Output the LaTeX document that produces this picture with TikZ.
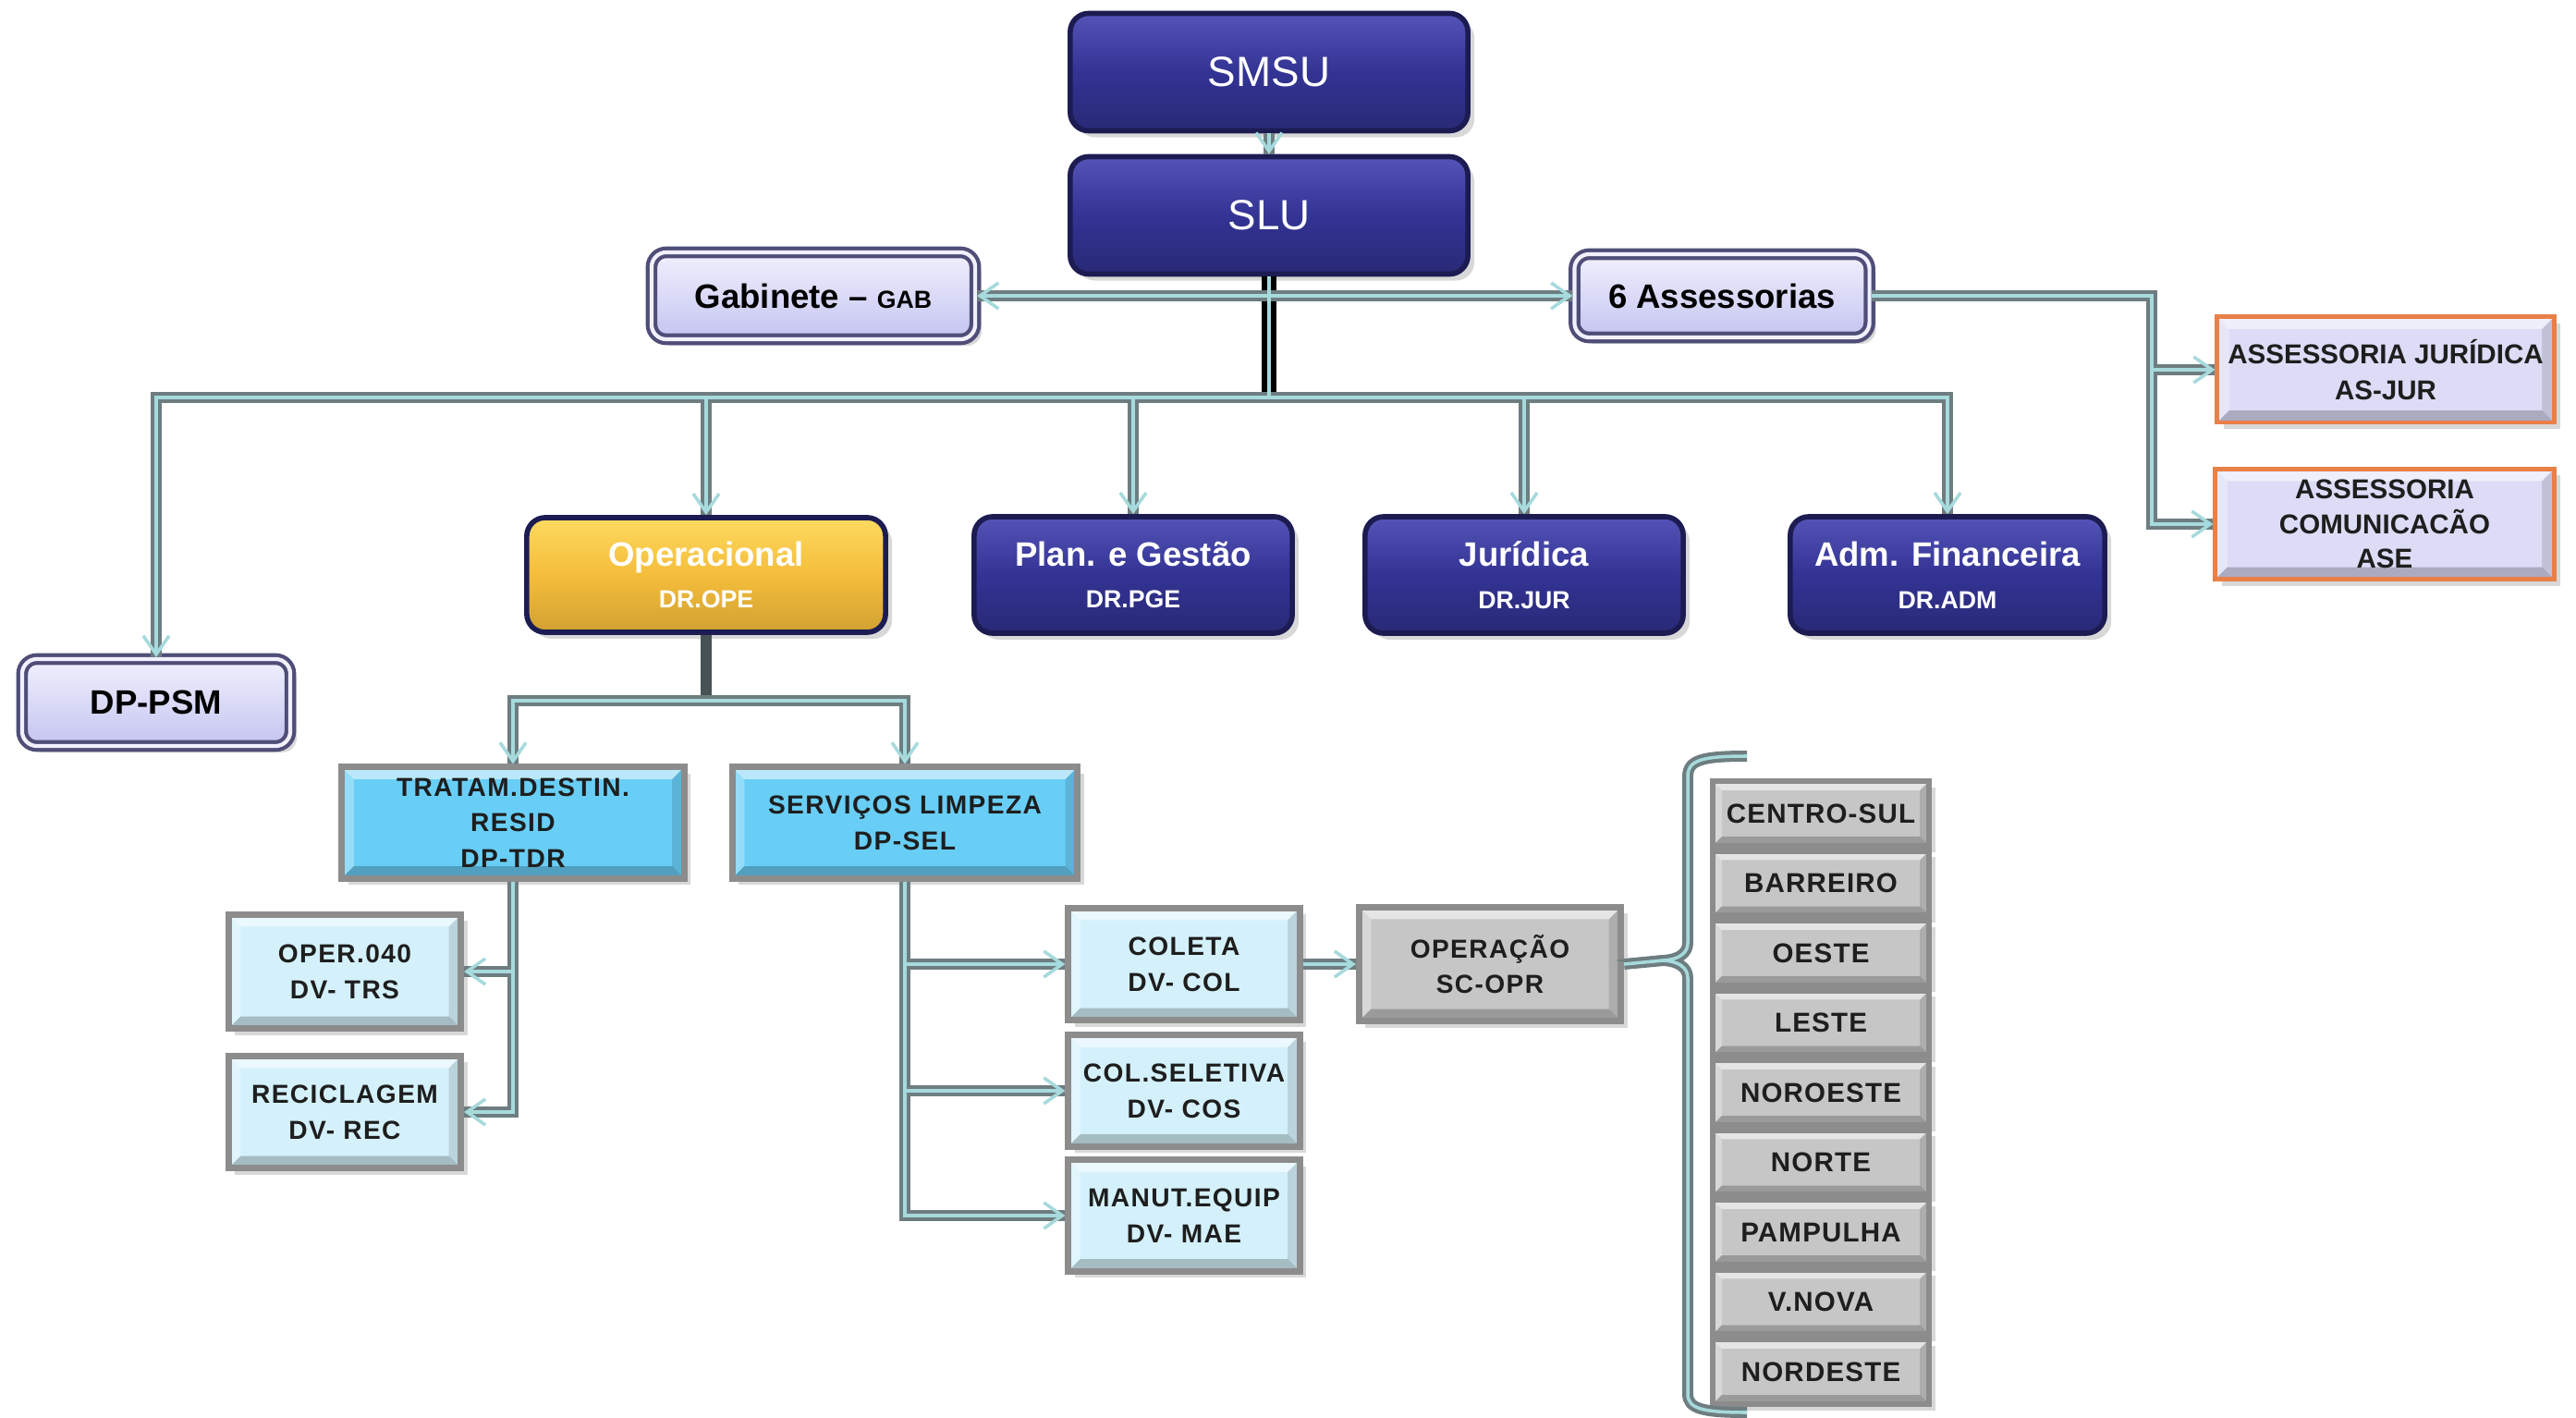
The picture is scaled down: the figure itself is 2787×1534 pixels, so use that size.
\documentclass[tikz,border=0pt]{standalone}
\usepackage{fontspec}
\setmainfont{Liberation Sans}
\newfontfamily\lsfont[LetterSpace=5]{Liberation Sans}
\newfontfamily\rgfont[LetterSpace=4]{Liberation Sans}
\usetikzlibrary{arrows.meta,shadows}
\definecolor{navyfill}{RGB}{51,51,148}
\definecolor{navyedge}{RGB}{28,28,82}
\definecolor{navytop}{RGB}{84,84,184}
\definecolor{orfill}{RGB}{245,189,59}
\definecolor{ortop}{RGB}{252,218,96}
\definecolor{lavtop}{RGB}{240,240,254}
\definecolor{lavbot}{RGB}{196,196,240}
\definecolor{lavedge}{RGB}{78,78,120}
\definecolor{asfill}{RGB}{220,220,247}
\definecolor{asedge}{RGB}{232,128,72}
\definecolor{cyanfill}{RGB}{104,206,246}
\definecolor{palefill}{RGB}{212,241,251}
\definecolor{grayfill}{RGB}{198,198,198}
\definecolor{boxedge}{RGB}{140,140,140}
\definecolor{lineblue}{RGB}{166,218,220}
\definecolor{lineshadow}{RGB}{110,125,128}
\definecolor{darkline}{RGB}{70,82,84}
\definecolor{txt}{RGB}{30,30,30}
\tikzset{
  sz/.style 2 args={minimum width=#1, minimum height=#2, inner sep=0pt, align=center},
  shd/.style={drop shadow={opacity=0.3, shadow xshift=0.07cm, shadow yshift=-0.07cm}},
  bevel/.style={path picture={
    \fill[white,opacity=0.55] (path picture bounding box.north west) -- (path picture bounding box.north east) -- ([shift={(-#1,-#1)}]path picture bounding box.north east) -- ([shift={(#1,-#1)}]path picture bounding box.north west) -- cycle;
    \fill[white,opacity=0.3] (path picture bounding box.north west) -- ([shift={(#1,-#1)}]path picture bounding box.north west) -- ([shift={(#1,#1)}]path picture bounding box.south west) -- (path picture bounding box.south west) -- cycle;
    \fill[black,opacity=0.22] (path picture bounding box.south west) -- ([shift={(#1,#1)}]path picture bounding box.south west) -- ([shift={(-#1,#1)}]path picture bounding box.south east) -- (path picture bounding box.south east) -- cycle;
    \fill[black,opacity=0.12] (path picture bounding box.south east) -- ([shift={(-#1,#1)}]path picture bounding box.south east) -- ([shift={(-#1,-#1)}]path picture bounding box.north east) -- (path picture bounding box.north east) -- cycle;
  }},
  bevel/.default=0.13cm,
  navybox/.style={shd, rounded corners=0.2cm, draw=navyedge, line width=1.6pt,
    top color=navytop, bottom color=navyfill!80!black, middle color=navyfill, text=white},
  orbox/.style={shd, rounded corners=0.2cm, draw=navyedge, line width=1.6pt,
    top color=ortop, bottom color=orfill!85!black, middle color=orfill, text=white},
  lavbox/.style={shd, rounded corners=0.16cm, draw=lavedge, line width=1.2pt,
    double=lavtop, double distance=1.2pt, top color=lavtop, bottom color=lavbot, text=black},
  asbox/.style={shd, fill=asfill, bevel, draw=asedge, line width=1.4pt, text=txt,
    font=\bfseries\fontsize{8.4}{11}\selectfont},
  cyanbox/.style={shd, fill=cyanfill, bevel, draw=boxedge, line width=2pt, text=txt,
    font=\lsfont\bfseries\fontsize{8}{11}\selectfont},
  palebox/.style={shd, fill=palefill, bevel, draw=boxedge, line width=2pt, text=txt,
    font=\lsfont\bfseries\fontsize{8}{11}\selectfont},
  graybox/.style={shd, fill=grayfill, bevel, draw=boxedge, line width=2pt, text=txt,
    font=\lsfont\bfseries\fontsize{8}{11}\selectfont},
  regbox/.style={shd, fill=grayfill, bevel=0.1cm, draw=boxedge, line width=1.8pt, text=txt,
    font=\rgfont\bfseries\fontsize{8.4}{10}\selectfont, sz={2.34cm}{0.7cm}},
  big/.style={font=\bfseries\fontsize{10.4}{13}\selectfont},
}
\newcommand{\sub}[1]{\\[0pt]{\fontsize{7.6}{9}\selectfont #1}}
\begin{document}
\begin{tikzpicture}[x=0.01cm, y=-0.01cm]
\useasboundingbox (0,0) rectangle (2787,1534);
\fill[white] (0,0) rectangle (2787,1534);

% top level
\node[navybox, sz={4.3cm}{1.27cm}, font=\fontsize{13}{15}\selectfont] (smsu) at (1373,78) {SMSU};
\node[navybox, sz={4.3cm}{1.27cm}, font=\fontsize{13}{15}\selectfont] (slu) at (1373,233) {SLU};
\node[lavbox, sz={3.5cm}{0.94cm}, big] (gab) at (880,320) {Gabinete – {\fontsize{7.6}{9}\selectfont GAB}};
\node[lavbox, sz={3.19cm}{0.9cm}, big] (ass6) at (1863,320) {6 Assessorias};
\node[asbox, sz={3.64cm}{1.14cm}] (asjur) at (2581,400) {ASSESSORIA JURÍDICA\\AS-JUR};
\node[asbox, sz={3.66cm}{1.19cm}, font=\bfseries\fontsize{8.4}{10.6}\selectfont] (ase) at (2580,567) {ASSESSORIA\\COMUNICACÃO\\ASE};

% directorates
\node[lavbox, sz={2.9cm}{0.94cm}, big] (psm) at (169,760) {DP-PSM};
\node[orbox, sz={3.88cm}{1.24cm}, big] (ope) at (764,622) {Operacional\sub{DR.OPE}};
\node[navybox, sz={3.44cm}{1.26cm}, big] (pge) at (1226,622) {Plan. e Gestão\sub{DR.PGE}};
\node[navybox, sz={3.44cm}{1.26cm}, big] (jur) at (1649,622) {Jurídica\sub{DR.JUR}};
\node[navybox, sz={3.4cm}{1.26cm}, big] (adm) at (2107,622) {Adm. Financeira\sub{DR.ADM}};

% departments
\node[cyanbox, sz={3.7cm}{1.2cm}] (tdr) at (555,890) {TRATAM.DESTIN.\\RESID\\DP-TDR};
\node[cyanbox, sz={3.73cm}{1.2cm}] (sel) at (979,890) {SERVIÇOS LIMPEZA\\DP-SEL};
\node[palebox, sz={2.51cm}{1.23cm}] (trs) at (373,1051) {OPER.040\\DV- TRS};
\node[palebox, sz={2.51cm}{1.21cm}] (rec) at (373,1203) {RECICLAGEM\\DV- REC};
\node[palebox, sz={2.5cm}{1.21cm}] (col) at (1281,1043) {COLETA\\DV- COL};
\node[palebox, sz={2.5cm}{1.2cm}] (cos) at (1281,1180) {COL.SELETIVA\\DV- COS};
\node[palebox, sz={2.5cm}{1.2cm}] (mae) at (1281,1315) {MANUT.EQUIP\\DV- MAE};
\node[graybox, sz={2.83cm}{1.23cm}] (opr) at (1612,1043) {OPERAÇÃO\\SC-OPR};

\foreach \t [count=\i] in {CENTRO-SUL,BARREIRO,OESTE,LESTE,NOROESTE,NORTE,PAMPULHA,V.NOVA,NORDESTE}
  \node[regbox] (r\i) at (1970,{880+75.5*(\i-1)}) {\t};

% helper coordinates
\coordinate (hub) at (slu.south |- gab.east);
\coordinate (bar) at (1373,430);
\coordinate (asx) at (2328,0);
\coordinate (ob) at (764,758);
\coordinate (cusp) at (1800,1039);

\def\myroutes{
  \draw[trunk] (slu.south) -- (bar);
  \draw[dk] (ope.south) -- (ob);
  \draw[ar] (smsu.south) -- (slu.north);
  \draw[ar] (hub) -- (gab.east);
  \draw[ar] (hub) -- (ass6.west);
  \draw[ar] (bar) -| (psm.north);
  \draw[ar] (bar) -| (ope.north);
  \draw[ar] (bar) -| (pge.north);
  \draw[ar] (bar) -| (jur.north);
  \draw[ar] (bar) -| (adm.north);
  \draw[ar] (ass6.east) -| (asx |- asjur.west) -- (asjur.west);
  \draw[ar] (ass6.east) -| (asx |- ase.west) -- (ase.west);
  \draw[ar] (ob) -| (tdr.north);
  \draw[ar] (ob) -| (sel.north);
  \draw[ar] (tdr.south) |- (trs.east);
  \draw[ar] (tdr.south) |- (rec.east);
  \draw[ar] (sel.south) |- (col.west);
  \draw[ar] (sel.south) |- (cos.west);
  \draw[ar] (sel.south) |- (mae.west);
  \draw[ar] (col.east) -- (opr.west);
  \draw (opr.east) -- (cusp);
  \draw (1890,818) .. controls (1842,818) and (1826,822) .. (1826,840)
        -- (1826,1020) .. controls (1826,1032) and (1815,1038) .. (cusp)
        .. controls (1815,1040) and (1826,1046) .. (1826,1058)
        -- (1826,1508) .. controls (1826,1524) and (1842,1528) .. (1890,1528);
}
\begin{scope}[color=lineshadow, line width=3.4pt, ar/.style={},
    trunk/.style={color=black, line width=4.6pt}, dk/.style={color=darkline, line width=3.6pt}]
  \myroutes
\end{scope}
\begin{scope}[color=lineblue, line width=1pt, ar/.style={-{Straight Barb[length=0.2cm,width=0.28cm]}},
    trunk/.style={}, dk/.style={draw=none}]
  \myroutes
\end{scope}
\end{tikzpicture}
\end{document}
